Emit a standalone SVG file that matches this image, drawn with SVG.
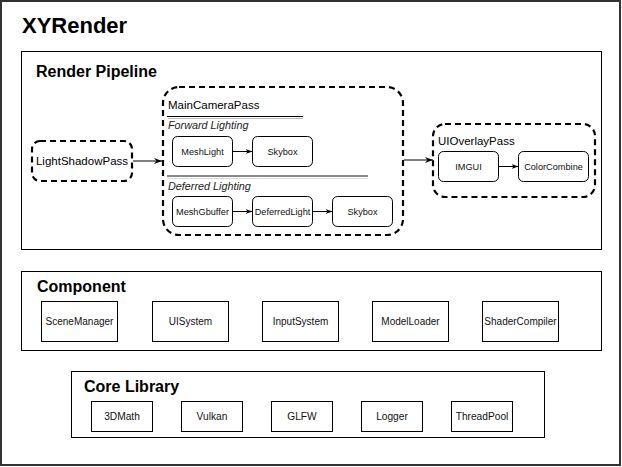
<svg xmlns="http://www.w3.org/2000/svg" width="622" height="467" viewBox="0 0 622 467">
<style>
text{font-family:"Liberation Sans",Arial,Helvetica,sans-serif;fill:#000}
.h1{font-size:22px;font-weight:bold}
.h2{font-size:16px;font-weight:bold}
.lbl{font-size:11.5px}
.it{font-size:10.8px;font-style:italic;fill:#222}
.sm{font-size:9.2px;text-anchor:middle;dominant-baseline:central;fill:#111}
.cm{font-size:10px;text-anchor:middle;dominant-baseline:central;fill:#111}
.cl{font-size:10.2px;text-anchor:middle;dominant-baseline:central;fill:#111}
.box{fill:#fff;stroke:#000;stroke-width:1}
.rbox{fill:#fff;stroke:#000;stroke-width:1}
.dash{fill:#fff;stroke:#000;stroke-width:2.2;stroke-dasharray:6 4}
.conn{stroke:#000;stroke-width:1;fill:none}
</style>
<defs>
<marker id="arr" markerWidth="10" markerHeight="8" refX="8" refY="4" orient="auto" markerUnits="userSpaceOnUse">
<path d="M0,1 L8,4 L0,7 L2.5,4 z" fill="#000"/>
</marker>
<marker id="arrs" markerWidth="8" markerHeight="6" refX="7" refY="3" orient="auto" markerUnits="userSpaceOnUse">
<path d="M0,0.5 L7,3 L0,5.5 L2,3 z" fill="#000"/>
</marker>
</defs>
<rect x="1" y="1" width="619" height="464" fill="#fff" stroke="#333" stroke-width="2"/>
<text class="h1" x="22" y="33">XYRender</text>

<g id="render-pipeline">
<rect class="box" x="21.5" y="51.5" width="580" height="198"/>
<text class="h2" x="36" y="77">Render Pipeline</text>
</g>

<g id="light-shadow-pass">
<rect class="dash" x="32" y="141" width="100" height="40" rx="8"/>
<text class="lbl" x="82" y="165" text-anchor="middle">LightShadowPass</text>
</g>

<g id="main-camera-pass">
<rect class="dash" x="163" y="87" width="240" height="148" rx="16"/>
<text class="lbl" x="168" y="109">MainCameraPass</text>
<line x1="167" y1="116.5" x2="303" y2="116.5" stroke="#000" stroke-width="1"/>
<line x1="168" y1="118.5" x2="303" y2="118.5" stroke="#bbb" stroke-width="1"/>
<text class="it" x="168" y="129">Forward Lighting</text>
<line x1="167" y1="176" x2="368" y2="176" stroke="#888" stroke-width="2"/>
<line x1="168" y1="178.5" x2="368" y2="178.5" stroke="#ddd" stroke-width="1"/>
<text class="it" x="168" y="190">Deferred Lighting</text>
</g>

<g id="mesh-light">
<rect class="rbox" x="172.5" y="136.5" width="60" height="30" rx="5"/>
<text class="sm" x="202.5" y="151.5">MeshLight</text>
</g>
<g id="skybox-forward">
<rect class="rbox" x="252.5" y="136.5" width="60" height="30" rx="5"/>
<text class="sm" x="282.5" y="151.5">Skybox</text>
</g>
<g id="mesh-gbuffer">
<rect class="rbox" x="172.5" y="196.5" width="60" height="30" rx="5"/>
<text class="sm" x="202.5" y="211.5">MeshGbuffer</text>
</g>
<g id="deferred-light">
<rect class="rbox" x="252.5" y="196.5" width="60" height="30" rx="5"/>
<text class="sm" x="282.5" y="211.5">DeferredLight</text>
</g>
<g id="skybox-deferred">
<rect class="rbox" x="332.5" y="196.5" width="60" height="30" rx="5"/>
<text class="sm" x="362.5" y="211.5">Skybox</text>
</g>

<g id="ui-overlay-pass">
<rect class="dash" x="433" y="124" width="162" height="73" rx="12"/>
<text class="lbl" x="438" y="145">UIOverlayPass</text>
</g>
<g id="imgui">
<rect class="rbox" x="438.5" y="151.5" width="60" height="30" rx="5"/>
<text class="sm" x="468.5" y="166.5">IMGUI</text>
</g>
<g id="color-combine">
<rect class="rbox" x="518.5" y="151.5" width="70" height="30" rx="5"/>
<text class="sm" x="553.5" y="166.5">ColorCombine</text>
</g>

<g id="connectors">
<line class="conn" x1="133" y1="161" x2="162" y2="161" marker-end="url(#arr)"/>
<line class="conn" x1="404" y1="160" x2="433" y2="160" marker-end="url(#arr)"/>
<line class="conn" x1="232.5" y1="151.5" x2="252.5" y2="151.5" marker-end="url(#arrs)"/>
<line class="conn" x1="232.5" y1="211.5" x2="252.5" y2="211.5" stroke="#555" marker-end="url(#arrs)"/>
<line class="conn" x1="312.5" y1="211.5" x2="332.5" y2="211.5" marker-end="url(#arrs)"/>
<line class="conn" x1="498.5" y1="166.5" x2="518.5" y2="166.5" marker-end="url(#arrs)"/>
</g>

<g id="component">
<rect class="box" x="21.5" y="271.5" width="580" height="79"/>
<text class="h2" x="37" y="292">Component</text>
</g>
<g id="scene-manager"><rect class="box" x="41.5" y="301.5" width="76" height="40"/><text class="cm" x="79.5" y="321.5">SceneManager</text></g>
<g id="ui-system"><rect class="box" x="152.5" y="301.5" width="76" height="40"/><text class="cm" x="190.5" y="321.5">UISystem</text></g>
<g id="input-system"><rect class="box" x="262.5" y="301.5" width="76" height="40"/><text class="cm" x="300.5" y="321.5">InputSystem</text></g>
<g id="model-loader"><rect class="box" x="372.5" y="301.5" width="76" height="40"/><text class="cm" x="410.5" y="321.5">ModelLoader</text></g>
<g id="shader-compiler"><rect class="box" x="482.5" y="301.5" width="76" height="40"/><text class="cm" x="520.5" y="321.5">ShaderCompiler</text></g>

<g id="core-library">
<rect class="box" x="71.5" y="371.5" width="473" height="66"/>
<text class="h2" x="84" y="392">Core Library</text>
</g>
<g id="math3d"><rect class="box" x="91.5" y="401.5" width="61" height="30"/><text class="cl" x="122" y="416.5">3DMath</text></g>
<g id="vulkan"><rect class="box" x="181.5" y="401.5" width="61" height="30"/><text class="cl" x="212" y="416.5">Vulkan</text></g>
<g id="glfw"><rect class="box" x="271.5" y="401.5" width="61" height="30"/><text class="cl" x="302" y="416.5">GLFW</text></g>
<g id="logger"><rect class="box" x="361.5" y="401.5" width="61" height="30"/><text class="cl" x="392" y="416.5">Logger</text></g>
<g id="thread-pool"><rect class="box" x="451.5" y="401.5" width="61" height="30"/><text class="cl" x="482" y="416.5">ThreadPool</text></g>
</svg>
